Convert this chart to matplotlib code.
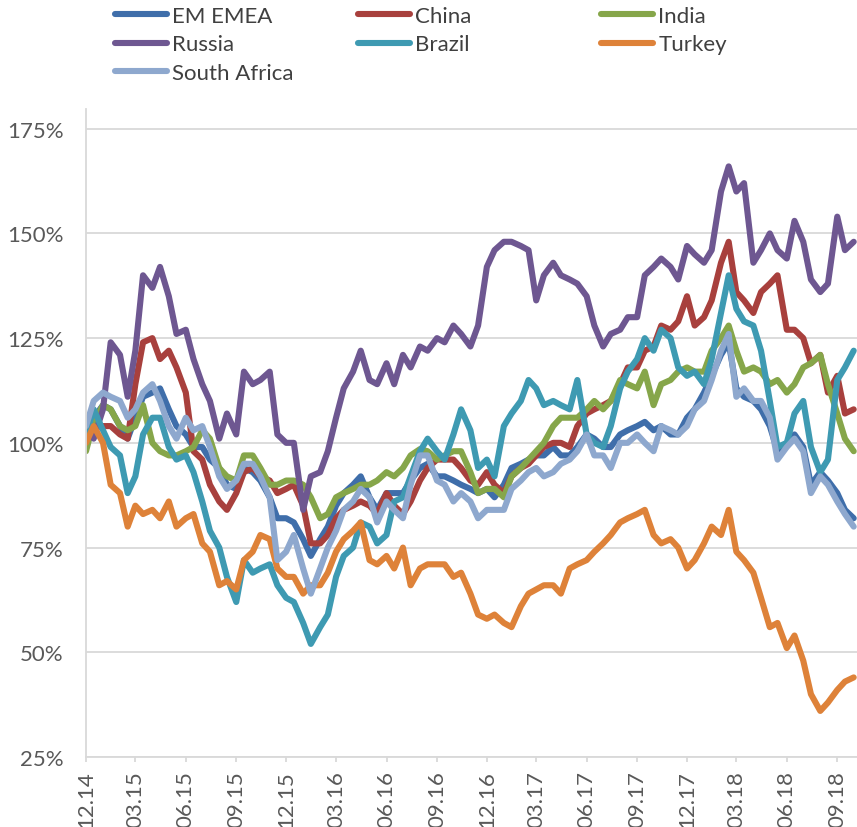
import numpy as np
import pandas as pd
import matplotlib
matplotlib.use('Agg')
import matplotlib.pyplot as plt

plt.rcParams['font.family'] = ['Lato', 'DejaVu Sans']

# half-monthly observations, Dec 2014 - Oct 2018 (index, start = 100%)
dates = pd.date_range('2014-12-01', periods=93, freq='SMS')

em_emea = [102, 106, 109, 108, 104, 101, 106, 111, 112, 113, 108, 104, 102, 99, 99, 96, 94, 90, 89, 94, 93, 91, 87, 82, 82,
           81, 77, 73, 77, 80, 85, 88, 90, 92, 87, 84, 88, 88, 88, 91, 94, 95, 92, 92, 91, 90, 89, 88, 89,
           87, 90, 94, 95, 96, 97, 97, 99, 97, 97, 99, 102, 101, 99, 99, 102, 103, 104, 105, 103,
           104, 102, 102, 106, 108, 112, 116, 121, 124, 113, 111, 110, 108, 104, 98, 100, 102, 99, 90, 93, 91, 88, 84, 82]
china = [101, 104, 104, 104, 102, 101, 114, 124, 125, 120, 122, 118, 112, 98, 96, 90, 86, 84, 88, 93, 94, 92, 91, 88, 89,
         90, 85, 76, 76, 78, 82, 84, 85, 86, 85, 83, 88, 85, 83, 86, 91, 94, 96, 96, 96, 94, 91, 90, 93,
         90, 88, 92, 94, 95, 97, 99, 100, 100, 99, 104, 107, 108, 109, 110, 114, 118, 118, 122, 123,
         128, 127, 129, 135, 128, 130, 134, 143, 148, 136, 134, 131, 136, 138, 140, 127, 127, 125, 119, 121, 112, 116, 107, 108]
india = [98, 105, 109, 108, 104, 103, 104, 109, 100, 98, 97, 97, 98, 99, 103, 101, 94, 92, 91, 97, 97, 94, 90, 90, 91,
         91, 90, 87, 82, 83, 87, 88, 89, 90, 90, 91, 93, 92, 94, 97, 98.5, 98, 96, 97, 98, 98, 93, 88, 89,
         89, 87, 92, 94, 96, 98, 100, 104, 106, 106, 106, 108, 110, 108, 110, 115, 114, 113, 117, 109,
         114, 115, 117, 118, 117, 117, 122, 125, 128, 122, 117, 118, 117, 114, 115, 112, 114, 118, 119, 121, 114, 107, 101, 98]
russia = [104, 101, 108, 124, 121, 111, 122, 140, 137, 142, 135, 126, 127, 120, 114, 110, 101, 107, 102, 117, 114, 115, 117, 102, 100,
          100, 84, 92, 93, 98, 106, 113, 117, 122, 115, 114, 119, 114, 121, 118, 123, 122, 125, 124, 128, 126, 123, 128, 142,
          146, 148, 148, 147, 146, 134, 140, 143, 140, 139, 138, 135, 128, 123, 126, 127, 130, 130, 140, 142,
          144, 142, 139, 147, 145, 143, 146, 160, 166, 160, 162, 143, 146, 150, 146, 144, 153, 148, 139, 136, 138, 154, 146, 148]
brazil = [102, 108, 103, 99, 97, 88, 92, 102, 106, 106, 99, 96, 97, 93, 86, 79, 75, 68, 62, 72, 69, 70, 71, 66, 63,
          62, 57, 52, 56, 59, 68, 73, 75, 81, 80, 76, 78, 86, 87, 92, 98, 101, 98, 96, 102, 108, 103, 94, 96,
          92, 104, 107, 110, 115, 113, 109, 110, 109, 108, 115, 102, 100, 99, 104, 113, 117, 120, 125, 122,
          127, 125, 118, 116, 117, 114, 120, 131, 140, 132, 129, 128, 122, 110, 99, 100, 107, 110, 99, 93, 96, 115, 118, 122]
turkey = [100, 104, 100, 90, 88, 80, 85, 83, 84, 82, 86, 80, 82, 83, 76, 74, 66, 67, 65, 72, 74, 78, 77, 70, 68,
          68, 64, 66, 66, 69, 74, 77, 79, 81, 72, 71, 73, 70, 75, 66, 70, 71, 71, 71, 68, 69, 64, 59, 58,
          59, 57, 56, 61, 64, 65, 66, 66, 64, 70, 71, 72, 74, 76, 78, 81, 82, 83, 84, 78,
          76, 77, 75, 70, 72, 76, 80, 78, 84, 74, 72, 69, 63, 56, 57, 51, 54, 48, 40, 36, 38, 41, 43, 44]
south_africa = [104, 110, 112, 111, 110, 106, 108, 112, 114, 110, 104, 101, 106, 103, 104, 99, 92, 89, 91, 95, 95, 92, 87, 72, 74,
                78, 70, 64, 70, 75, 79, 84, 86, 89, 87, 81, 86, 84, 82, 90, 97, 97, 91, 90, 86, 88, 86, 82, 84,
                84, 84, 89, 91, 93, 94, 92, 93, 95, 96, 98, 102, 97, 97, 94, 100, 100, 102, 100, 98,
                104, 103, 102, 104, 108, 110, 115, 122, 126, 111, 113, 110, 110, 106, 96, 99, 101, 98, 88, 92, 90, 86, 83, 80]

names = ['EM EMEA', 'China', 'India', 'Russia', 'Brazil', 'Turkey', 'South Africa']
colors = ['#3F6EAA', '#A8403D', '#86A64A', '#6E5791', '#3E9AB2', '#DE8239', '#8EA8CE']
series = [em_emea, china, india, russia, brazil, turkey, south_africa]

y_ticks = [25, 50, 75, 100, 125, 150, 175]
x_ticks = pd.date_range('2014-12-01', '2018-09-01', freq='3MS')

fig = plt.figure(figsize=(8.57, 8.28), dpi=100)
ax = fig.add_axes([86/857, 70/828, 771/857, 648/828])

lines = []
for name, vals, col in zip(names, series, colors):
    l, = ax.plot(dates, vals, color=col, lw=4.4, solid_joinstyle='round',
                 solid_capstyle='round', label=name)
    lines.append(l)

ax.set_ylim(25, 179.7)
ax.set_xlim(pd.Timestamp('2014-12-01'), pd.Timestamp('2018-10-07'))
ax.set_yticks(y_ticks)
ax.set_yticklabels([f'{v}%' for v in y_ticks])
ax.set_xticks(x_ticks)
ax.set_xticklabels([d.strftime('%m.%y') for d in x_ticks])

ax.yaxis.grid(True, color='#D9D9D9', lw=1.3)
ax.set_axisbelow(True)
for s in ['top', 'right']:
    ax.spines[s].set_visible(False)
for s in ['left', 'bottom']:
    ax.spines[s].set_color('#D9D9D9')
    ax.spines[s].set_linewidth(1.3)

ax.tick_params(axis='y', length=0, pad=16, labelsize=16, labelcolor='#595959')
ax.tick_params(axis='x', length=3.6, width=1.3, color='#D9D9D9', pad=6,
               labelsize=16, labelcolor='#595959', labelrotation=90)

# legend: three columns of equal width, rows filled left to right
cols = [[0, 3, 6], [1, 4], [2, 5]]
col_x = [115, 358, 601]
for idx, x in zip(cols, col_x):
    leg = fig.legend([lines[i] for i in idx], [names[i] for i in idx],
                     loc='upper left', bbox_to_anchor=(x/857, 1 - 7/828),
                     frameon=False, borderpad=0, borderaxespad=0,
                     fontsize=16, handlelength=2.35, handletextpad=0.23,
                     labelspacing=0.38)
    for t in leg.get_texts():
        t.set_color('#404040')

fig.savefig('out.png', dpi=100)
